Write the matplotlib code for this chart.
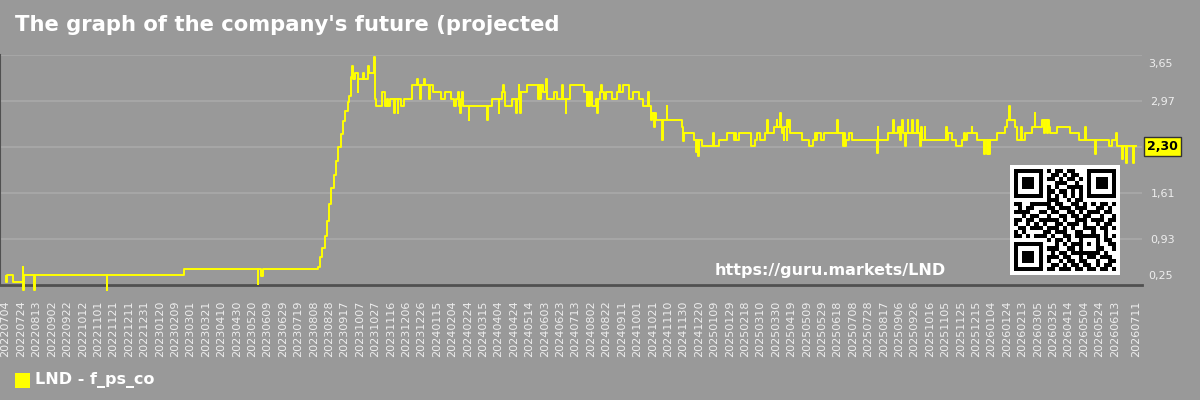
import numpy as np
import matplotlib
matplotlib.use("Agg")
import matplotlib.pyplot as plt
from matplotlib.patches import Rectangle
import matplotlib.transforms as mtransforms

# ---- data (days since 2022-07-04, step values) ----
start = np.datetime64("2022-07-04")
last_day = 1468

day = [0, 1, 2, 10, 22, 23, 24, 37, 38, 131, 132, 231, 327, 328, 332, 334,
       405, 408, 411, 414, 417, 420, 423, 426, 429, 432, 435, 438, 441, 444, 446, 448, 449, 450,
       451, 453, 457, 458, 464, 465, 470, 471, 472, 478, 480, 481, 488, 493, 495, 497, 499,
       504, 505, 509, 510, 513, 517, 528, 534, 535, 538, 539, 543, 544, 550, 551, 555, 565,
       571, 578, 582, 585, 587, 588, 590, 591, 593, 594, 601, 602, 625, 626, 632, 640, 641,
       645, 646, 647, 648, 658, 663, 664, 666, 667, 668, 669, 677, 691, 692, 694, 695, 697,
       702, 703, 712, 716, 722, 723, 727, 728, 733, 751, 755, 756, 758, 759, 761, 766, 768,
       769, 772, 773, 774, 777, 780, 787, 794, 796, 797, 802, 809, 815, 822, 828, 834, 835,
       838, 839, 842, 843, 844, 852, 853, 858, 859,
       878, 880, 881, 894, 896, 897, 899, 900, 904, 919, 920, 926, 936, 945, 947, 948, 952,
       968, 973, 976, 980, 986, 989, 990, 997, 1001, 1002, 1005, 1006, 1008, 1010, 1011,
       1014, 1015, 1016, 1017, 1018, 1034, 1043, 1048, 1051, 1052, 1053, 1058, 1062, 1079,
       1080, 1087, 1088, 1090, 1091, 1095, 1099, 1131, 1132, 1133, 1146,
       1152, 1153, 1159, 1161, 1162, 1164, 1165, 1168, 1169, 1171, 1172, 1177, 1178, 1183,
       1184, 1187, 1189, 1190, 1193, 1194, 1221, 1222, 1224, 1229, 1234, 1242, 1244, 1246,
       1248, 1254, 1255, 1261, 1270, 1271, 1274, 1275, 1277, 1278, 1287, 1298, 1300, 1303,
       1304, 1311, 1313, 1318, 1319, 1324, 1332, 1336, 1337, 1345, 1348, 1349, 1352, 1353,
       1354, 1356, 1365, 1382, 1393, 1401, 1402, 1414, 1415, 1432, 1437, 1442, 1443, 1449,
       1450, 1451, 1455, 1456, 1464, 1465, 1468]

val = [0.39, 0.29, 0.40, 0.29, 0.51, 0.18, 0.40, 0.18, 0.40, 0.18, 0.40, 0.49, 0.27, 0.49, 0.39, 0.49,
       0.52, 0.66, 0.80, 0.97, 1.20, 1.45, 1.68, 1.88, 2.08, 2.29, 2.48, 2.67, 2.82, 2.95, 3.05, 3.20, 3.32, 3.49,
       3.29, 3.39, 3.10, 3.29, 3.39, 3.29, 3.39, 3.49, 3.39, 3.62, 3.00, 2.89, 3.10, 2.89, 3.00, 2.89, 3.00,
       2.79, 3.00, 2.79, 3.00, 2.89, 3.00, 3.20, 3.29, 3.20, 3.00, 3.20, 3.29, 3.20, 3.00, 3.20, 3.10, 3.00,
       3.10, 3.00, 2.89, 3.00, 3.10, 2.89, 2.79, 3.00, 3.10, 2.89, 2.69, 2.89, 2.69, 2.89, 3.00, 2.79, 3.00,
       3.10, 3.20, 3.10, 2.89, 3.00, 2.79, 3.00, 3.20, 3.10, 2.79, 3.10, 3.20, 3.00, 3.20, 3.00, 3.20, 3.10,
       3.29, 3.00, 3.10, 3.00, 3.20, 3.00, 2.79, 3.00, 3.20, 3.10, 2.89, 3.10, 2.89, 3.10, 2.89, 3.00, 2.79,
       3.00, 3.10, 3.20, 3.10, 3.00, 3.10, 3.00, 3.10, 3.20, 3.10, 3.20, 3.00, 3.10, 3.00, 2.89, 3.10, 2.89,
       2.69, 2.79, 2.59, 2.79, 2.69, 2.40, 2.69, 2.89, 2.69,
       2.59, 2.38, 2.50, 2.40, 2.22, 2.40, 2.16, 2.40, 2.30, 2.50, 2.30, 2.40, 2.50, 2.40, 2.50, 2.40, 2.50,
       2.30, 2.40, 2.50, 2.40, 2.50, 2.69, 2.50, 2.59, 2.69, 2.59, 2.79, 2.59, 2.50, 2.40, 2.59,
       2.40, 2.69, 2.59, 2.69, 2.50, 2.40, 2.30, 2.40, 2.50, 2.40, 2.50, 2.40, 2.50, 2.69,
       2.50, 2.30, 2.50, 2.30, 2.40, 2.50, 2.40, 2.20, 2.59, 2.40, 2.50,
       2.69, 2.50, 2.59, 2.40, 2.59, 2.69, 2.50, 2.30, 2.50, 2.69, 2.50, 2.69, 2.50, 2.69,
       2.50, 2.30, 2.59, 2.40, 2.59, 2.40, 2.59, 2.40, 2.50, 2.40, 2.30, 2.40, 2.50, 2.40,
       2.50, 2.59, 2.50, 2.40, 2.19, 2.40, 2.19, 2.40, 2.19, 2.40, 2.50, 2.59, 2.69, 2.89,
       2.69, 2.59, 2.40, 2.59, 2.40, 2.50, 2.59, 2.79, 2.59, 2.69, 2.50, 2.69, 2.50, 2.69,
       2.59, 2.50, 2.59, 2.50, 2.40, 2.59, 2.40, 2.19, 2.40, 2.30, 2.40, 2.50, 2.30, 2.11,
       2.20, 2.30, 2.05, 2.30, 2.05, 2.30, 2.30]

last_value = 2.30
ytick_vals = [0.25, 0.93, 1.61, 2.29, 2.97, 3.65]
ytick_text = ["0,25", "0,93", "1,61", "", "2,97", "3,65"]
xtick_days = list(range(0, 1441, 20)) + [last_day]
xtick_text = [str(start + np.timedelta64(d, "D")).replace("-", "") for d in xtick_days]

title = "The graph of the company's future (projected"
series_name = "LND - f_ps_co"
watermark = "https://guru.markets/LND"

# QR block (decoration), 25x25 modules
qr_rows = [
    "1111111" + "0" + "101101100" + "0" + "1111111",
    "1000001" + "0" + "011010110" + "0" + "1000001",
    "1011101" + "0" + "110101101" + "0" + "1011101",
    "1011101" + "0" + "001110010" + "0" + "1011101",
    "1011101" + "0" + "101001111" + "0" + "1011101",
    "1000001" + "0" + "110110101" + "0" + "1000001",
    "1111111" + "0" + "101010101" + "0" + "1111111",
    "00000000" + "111001011" + "00000000",
    "1100111110110011010101101",
    "0101100011011101110011010",
    "1111001101100110101110110",
    "0010110010011011011001001",
    "1101101111101001110111011",
    "1001010100110111010010110",
    "0110111011101010011101101",
    "1010000110111001100100100",
    "1101011101001101" + "11111" + "0101",
    "00000000" + "10110100" + "10001" + "0110",
    "1111111" + "0" + "00101011" + "10101" + "0011",
    "1000001" + "0" + "11100110" + "10001" + "1001",
    "1011101" + "0" + "01011011" + "11111" + "0100",
    "1011101" + "0" + "11101100" + "10110" + "1110",
    "1011101" + "0" + "10010110" + "11001" + "0011",
    "1000001" + "0" + "01101011" + "01101" + "0110",
    "1111111" + "0" + "11011101" + "10110" + "1101",
]

BG = "#999999"
TXT = "#eeeeee"

fig = plt.figure(figsize=(12, 4), dpi=100, facecolor=BG)
ax = fig.add_axes([0, 1 - 285 / 400, 1142 / 1200, 230 / 400])
ax.set_facecolor(BG)

ax.step(day, val, where="post", color="#ffff00", lw=1.4, clip_on=False, zorder=3)

ax.set_xlim(-7.3, last_day + 7.3)
ax.set_ylim(0.25, 3.65)

# y labels on the right; the end ones are pulled inwards like in the original
ax.yaxis.tick_right()
ax.set_yticks(ytick_vals)
ax.set_yticklabels([""] + ytick_text[1:-1] + [""])
ax.tick_params(axis="y", length=0, pad=6, labelsize=8, labelcolor=TXT)
trans = mtransforms.blended_transform_factory(ax.transAxes, ax.transData)
for v, t, dy in [(ytick_vals[0], ytick_text[0], 9), (ytick_vals[-1], ytick_text[-1], -9.5)]:
    off = mtransforms.ScaledTranslation(6 / 100, dy / 100, fig.dpi_scale_trans)
    ax.text(1.0, v, t, transform=trans + off, ha="left", va="center", fontsize=8,
            color=TXT, clip_on=False)

ax.set_xticks(xtick_days)
ax.set_xticklabels(xtick_text, rotation=90)
ax.tick_params(axis="x", length=0, pad=11, labelsize=8, labelcolor=TXT)

ax.grid(axis="y", color="#a6a6a6", lw=1.5)
ax.set_axisbelow(True)
for s in ["top", "right"]:
    ax.spines[s].set_visible(False)
ax.spines["left"].set_color("#505050")
ax.spines["left"].set_linewidth(1.5)
ax.spines["bottom"].set_color("#505050")
ax.spines["bottom"].set_linewidth(2)

# current value box on the right
ax.text(1.0 + 5 / 1142, last_value, ("%.2f" % last_value).replace(".", ","), transform=trans,
        ha="left", va="center", fontsize=9, fontweight="bold", color="black", clip_on=False,
        zorder=6, bbox=dict(boxstyle="square,pad=0.22", fc="#ffff00", ec="#333333", lw=1))

# title, watermark, legend
fig.text(15 / 1200, 1 - 25 / 400, title, ha="left", va="center", fontsize=15.2,
         fontweight="bold", color="white")
fig.text(830 / 1200, 1 - 270 / 400, watermark, ha="center", va="center", fontsize=11.5,
         fontweight="bold", color="white")
fig.patches.append(Rectangle((15 / 1200, 1 - 388 / 400), 15 / 1200, 15 / 400,
                             transform=fig.transFigure, facecolor="#ffff00", edgecolor="none"))
fig.text(35 / 1200, 1 - 380 / 400, series_name, ha="left", va="center", fontsize=11.5,
         fontweight="bold", color="white")

# QR code box
qr = np.array([[int(c) for c in r] for r in qr_rows])
qr = np.pad(qr, 1, constant_values=0)
qax = fig.add_axes([1010 / 1200, 1 - 275 / 400, 110 / 1200, 110 / 400])
qax.imshow(qr, cmap="gray_r", interpolation="nearest", aspect="auto", vmin=0, vmax=1)
qax.axis("off")

fig.savefig("out.png", dpi=100, facecolor=BG)
